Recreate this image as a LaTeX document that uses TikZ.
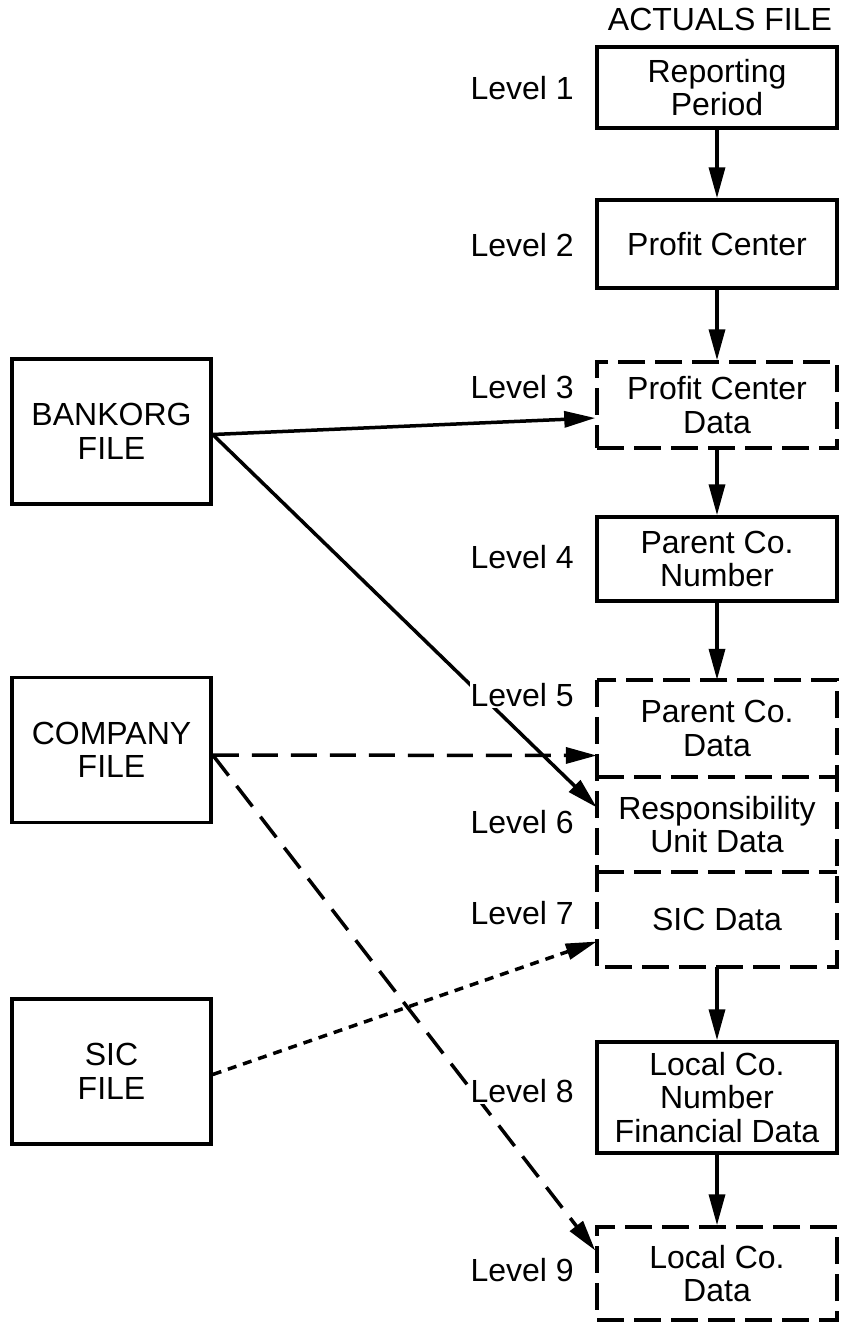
\documentclass[tikz,border=0pt]{standalone}
\usepackage{fontspec}
\setmainfont{Liberation Sans}
\usetikzlibrary{arrows.meta}
\begin{document}
\begin{tikzpicture}[x=1pt,y=-1pt,
  every node/.style={font=\fontsize{32}{33.5}\selectfont, align=center, inner sep=0pt},
  box/.style={draw, line width=3.5pt, minimum width=240pt},
  lbox/.style={draw, line width=3.5pt, minimum width=199pt, minimum height=145pt},
  dbox/.style={box, dash pattern=on 27pt off 10pt},
  plainbox/.style={minimum width=240pt},
  dline/.style={line width=3.5pt, dash pattern=on 27pt off 10pt},
  arr/.style={-{Triangle[length=31pt,width=16pt]}, line width=3.5pt},
  longdash/.style={dash pattern=on 26pt off 13pt},
  shortdash/.style={dash pattern=on 9pt off 7pt},
  lvl/.style={anchor=east, fill=white, inner sep=1pt}
]
\useasboundingbox (0,0) rectangle (844,1323);

% title
\node (title) at (720,19) {ACTUALS FILE};

% right column
\node[box, minimum height=81pt] (p1) at (717,87.5) {Reporting\\Period};
\node[box, minimum height=88pt] (p2) at (717,244) {Profit Center};
\node[dbox, minimum height=86pt] (p3) at (717,405) {Profit Center\\Data};
\node[box, minimum height=84pt] (p4) at (717,559) {Parent Co.\\Number};
\node[plainbox, minimum height=97pt] (p5) at (717,728.5) {Parent Co.\\Data};
\node[plainbox, minimum height=95pt] (p6) at (717,824.5) {Responsibility\\Unit Data};
\node[plainbox, minimum height=95pt] (p7) at (717,919.5) {SIC Data};
\node[box, minimum height=111pt] (p8) at (717,1097.5) {Local Co.\\Number\\Financial Data};
\node[dbox, minimum height=93pt] (p9) at (717,1273.5) {Local Co.\\Data};

% frame of stacked levels 5-7
\draw[dline] (p5.north west) rectangle (p7.south east);
\draw[dline] (p5.south west) -- (p5.south east);
\draw[dline] (p6.south west) -- (p6.south east);

% left files
\node[lbox] (bank) at (111.5,431.5) {BANKORG\\FILE};
\node[lbox] (comp) at (111.5,750) {COMPANY\\FILE};
\node[lbox] (sic) at (111.5,1071.5) {SIC\\FILE};

% vertical arrows
\draw[arr] (p1) -- (p2);
\draw[arr] (p2) -- (p3);
\draw[arr] (p3) -- (p4);
\draw[arr] (p4) -- (p5);
\draw[arr] (p7) -- (p8);
\draw[arr] (p8) -- (p9);

% file connectors
\draw[arr] ([yshift=-3pt]bank.east) -- ([yshift=-13pt]p3.west);
\draw[arr] ([yshift=-3pt]bank.east) -- ([yshift=17pt]p6.west);
\draw[arr, longdash] ([yshift=-5pt]comp.east) -- ([yshift=-27pt]p5.west);
\draw[arr, longdash] ([yshift=-5pt]comp.east) -- ([yshift=23pt]p9.west);
\draw[arr, shortdash] ([yshift=-3pt]sic.east) -- ([yshift=-22pt]p7.west);

% level labels
\node[lvl] (l1) at (575,88) {Level 1};
\node[lvl] (l2) at (575,245) {Level 2};
\node[lvl] (l3) at (575,387) {Level 3};
\node[lvl] (l4) at (575,557) {Level 4};
\node[lvl] (l5) at (575,695) {Level 5};
\node[lvl] (l6) at (575,822) {Level 6};
\node[lvl] (l7) at (575,913) {Level 7};
\node[lvl] (l8) at (575,1091) {Level 8};
\node[lvl] (l9) at (575,1270) {Level 9};
\end{tikzpicture}
\end{document}
